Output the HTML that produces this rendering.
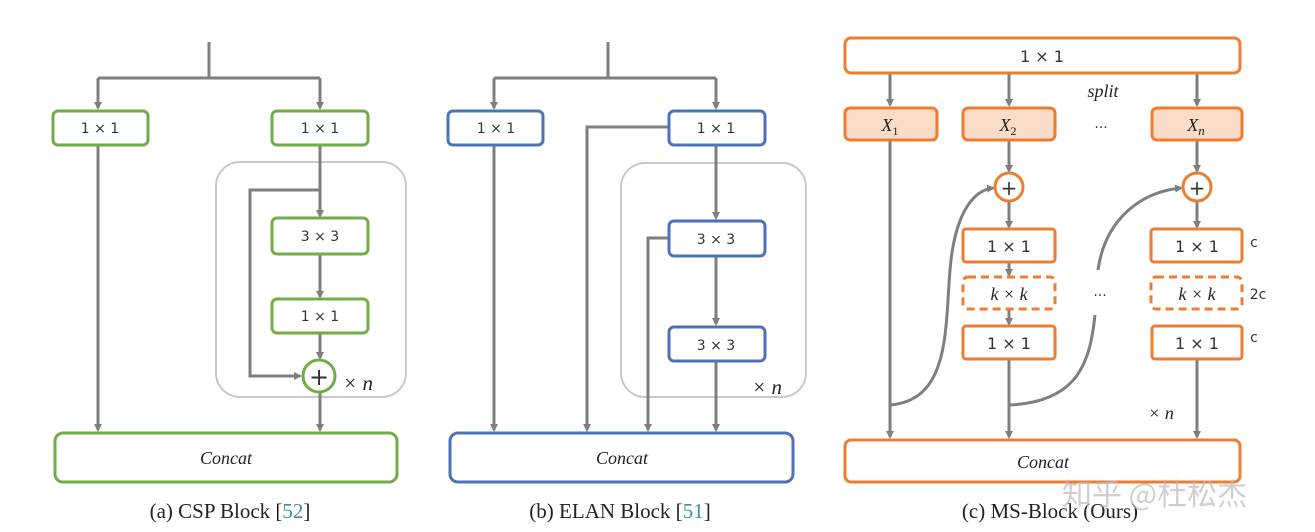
<!DOCTYPE html>
<html><head><meta charset="utf-8"><style>
html,body{margin:0;padding:0;background:#fff;width:1315px;height:532px;overflow:hidden}
svg{display:block}
.t{font-family:"DejaVu Sans","Liberation Sans",sans-serif;font-size:14px;fill:#333;text-anchor:middle}
.i{font-family:"Liberation Serif",serif;font-style:italic;font-size:18px;fill:#222;text-anchor:middle}
.cap{font-family:"Liberation Serif",serif;font-size:21px;fill:#222;text-anchor:middle}
.ln{stroke:#7f7f7f;stroke-width:3;fill:none}
</style></head><body>
<svg width="1315" height="532" viewBox="0 0 1315 532">
<defs><marker id="a" markerWidth="8" markerHeight="8" refX="6" refY="4" orient="auto" markerUnits="userSpaceOnUse"><path d="M0,0 L8,4 L0,8 z" fill="#7f7f7f"/></marker></defs>

<!-- (a) CSP -->
<g>
<rect x="216" y="162" width="190" height="235" rx="24" fill="none" stroke="#c8c8c8" stroke-width="2"/>
<path class="ln" d="M209 42 V78 M98 78 H320"/>
<path class="ln" d="M98 78 V108" marker-end="url(#a)"/>
<path class="ln" d="M320 78 V108" marker-end="url(#a)"/>
<path class="ln" d="M98 145 V430" marker-end="url(#a)"/>
<path class="ln" d="M320 145 V216" marker-end="url(#a)"/>
<path class="ln" d="M320 190 H250 V376 H300" marker-end="url(#a)"/>
<path class="ln" d="M320 254 V297" marker-end="url(#a)"/>
<path class="ln" d="M320 333 V358" marker-end="url(#a)"/>
<path class="ln" d="M320 392 V430" marker-end="url(#a)"/>
<g fill="#fff" stroke="#70ad47" stroke-width="3">
<rect x="53" y="111" width="95" height="34" rx="5"/>
<rect x="272" y="111" width="96" height="34" rx="5"/>
<rect x="272" y="218" width="96" height="36" rx="5"/>
<rect x="272" y="299" width="96" height="34" rx="5"/>
<circle cx="319" cy="376" r="16"/>
<rect x="55" y="433" width="342" height="49" rx="8"/>
</g>
<text class="t" x="100" y="133">1 × 1</text>
<text class="t" x="320" y="133">1 × 1</text>
<text class="t" x="320" y="241">3 × 3</text>
<text class="t" x="320" y="321">1 × 1</text>
<text x="319" y="385" style="font:24px 'DejaVu Sans';fill:#333;text-anchor:middle">+</text>
<text class="i" x="358" y="390" style="font-size:21px">× n</text>
<text class="i" x="226" y="464">Concat</text>
<text class="cap" x="230" y="518">(a) CSP Block [<tspan fill="#3b8ab0">52</tspan>]</text>
</g>

<!-- (b) ELAN -->
<g>
<rect x="621" y="163" width="185" height="234" rx="24" fill="none" stroke="#c8c8c8" stroke-width="2"/>
<path class="ln" d="M608 42 V78 M494 78 H716"/>
<path class="ln" d="M494 78 V108" marker-end="url(#a)"/>
<path class="ln" d="M716 78 V108" marker-end="url(#a)"/>
<path class="ln" d="M494 145 V430" marker-end="url(#a)"/>
<path class="ln" d="M669 127 H587 V430" marker-end="url(#a)"/>
<path class="ln" d="M716 145 V218" marker-end="url(#a)"/>
<path class="ln" d="M669 238 H648 V430" marker-end="url(#a)"/>
<path class="ln" d="M716 256 V324" marker-end="url(#a)"/>
<path class="ln" d="M716 361 V430" marker-end="url(#a)"/>
<g fill="#fff" stroke="#4a73b8" stroke-width="3">
<rect x="448" y="111" width="95" height="34" rx="5"/>
<rect x="669" y="111" width="96" height="34" rx="5"/>
<rect x="669" y="221" width="96" height="35" rx="5"/>
<rect x="669" y="327" width="96" height="34" rx="5"/>
<rect x="450" y="433" width="343" height="49" rx="8"/>
</g>
<text class="t" x="496" y="133">1 × 1</text>
<text class="t" x="716" y="133">1 × 1</text>
<text class="t" x="716" y="244">3 × 3</text>
<text class="t" x="716" y="350">3 × 3</text>
<text class="i" x="767" y="394" style="font-size:21px">× n</text>
<text class="i" x="622" y="464">Concat</text>
<text class="cap" x="620" y="518">(b) ELAN Block [<tspan fill="#3b8ab0">51</tspan>]</text>
</g>

<!-- (c) MS -->
<g>
<path class="ln" d="M890 73 V105" marker-end="url(#a)"/>
<path class="ln" d="M1009 73 V105" marker-end="url(#a)"/>
<path class="ln" d="M1197 73 V105" marker-end="url(#a)"/>
<path class="ln" d="M890 140 V437" marker-end="url(#a)"/>
<path class="ln" d="M1009 140 V171" marker-end="url(#a)"/>
<path class="ln" d="M1197 140 V171" marker-end="url(#a)"/>
<path class="ln" d="M1009 201 V227" marker-end="url(#a)"/>
<path class="ln" d="M1197 201 V227" marker-end="url(#a)"/>
<path class="ln" d="M1009 262 V275" marker-end="url(#a)"/>
<path class="ln" d="M1009 309 V324" marker-end="url(#a)"/>
<path class="ln" d="M1009 359 V437" marker-end="url(#a)"/>
<path class="ln" d="M1197 359 V437" marker-end="url(#a)"/>
<path class="ln" d="M890 405 C950 400 945 330 950 270 C955 210 975 190 993 188" marker-end="url(#a)"/>
<path class="ln" d="M1009 405 C1080 402 1090 360 1095 315"/>
<path class="ln" d="M1098 270 C1105 220 1140 192 1181 188" marker-end="url(#a)"/>
<g stroke="#ed7d31" stroke-width="3">
<rect x="845" y="38" width="395" height="35" rx="6" fill="#fff"/>
<rect x="845" y="108" width="92" height="32" rx="5" fill="#fbdcc8"/>
<rect x="963" y="108" width="92" height="32" rx="5" fill="#fbdcc8"/>
<rect x="1152" y="108" width="90" height="32" rx="5" fill="#fbdcc8"/>
<circle cx="1009" cy="187" r="14" fill="#fff"/>
<circle cx="1197" cy="187" r="14" fill="#fff"/>
<rect x="963" y="229" width="92" height="33" rx="3" fill="#fff"/>
<rect x="963" y="277" width="92" height="32" rx="5" fill="#fff" stroke-dasharray="8,5"/>
<rect x="963" y="326" width="92" height="33" rx="3" fill="#fff"/>
<rect x="1151" y="229" width="91" height="33" rx="3" fill="#fff"/>
<rect x="1151" y="277" width="91" height="32" rx="5" fill="#fff" stroke-dasharray="8,5"/>
<rect x="1152" y="326" width="90" height="33" rx="3" fill="#fff"/>
<rect x="845" y="440" width="395" height="42" rx="6" fill="#fff"/>
</g>
<text class="t" x="1042" y="62" style="font-size:16px">1 × 1</text>
<text class="i" x="1103" y="97">split</text>
<text class="i" x="890" y="131">X<tspan font-size="12" font-style="normal" dy="4">1</tspan></text>
<text class="i" x="1008" y="131">X<tspan font-size="12" font-style="normal" dy="4">2</tspan></text>
<text class="i" x="1196" y="131">X<tspan font-size="13" dy="4">n</tspan></text>
<text class="t" x="1101" y="132">···</text>
<text x="1009" y="195" style="font:20px 'DejaVu Sans';fill:#333;text-anchor:middle">+</text>
<text x="1197" y="195" style="font:20px 'DejaVu Sans';fill:#333;text-anchor:middle">+</text>
<text class="t" x="1009" y="252" style="font-size:16px">1 × 1</text>
<text class="i" x="1009" y="300">k × k</text>
<text class="t" x="1009" y="349" style="font-size:16px">1 × 1</text>
<text class="t" x="1197" y="252" style="font-size:16px">1 × 1</text>
<text class="i" x="1197" y="300">k × k</text>
<text class="t" x="1197" y="349" style="font-size:16px">1 × 1</text>
<text class="t" x="1100" y="300">···</text>
<text class="t" x="1254" y="247">c</text>
<text class="t" x="1258" y="299">2c</text>
<text class="t" x="1254" y="342">c</text>
<text class="i" x="1161" y="419">× n</text>
<text class="i" x="1043" y="468">Concat</text>
<text class="cap" x="1050" y="518">(c) MS-Block (Ours)</text>
<text x="1062" y="505" style="font:30px 'Noto Sans CJK SC',sans-serif;fill:#bbb;fill-opacity:0.7">知乎 @杜松杰</text>
</g>
</svg>
</body></html>
